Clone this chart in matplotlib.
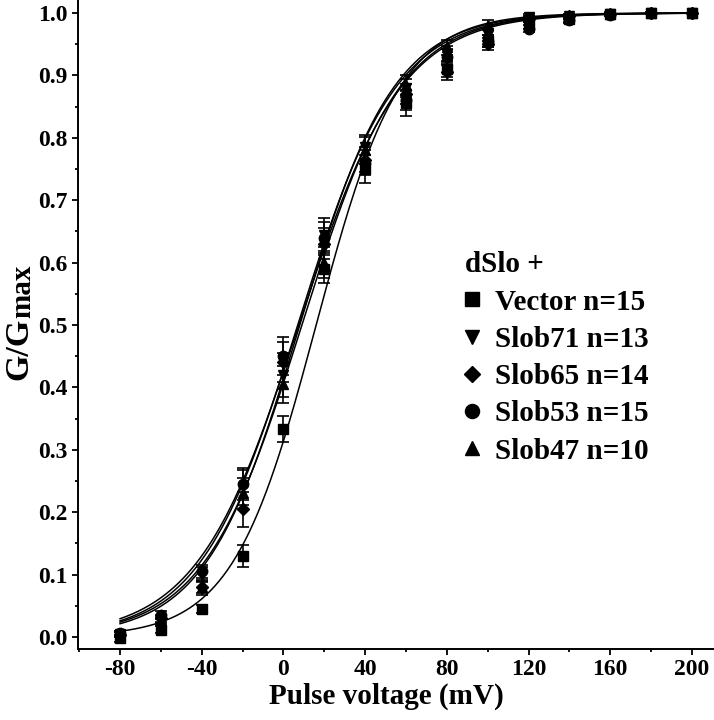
import numpy as np
import matplotlib
matplotlib.use("Agg")
import matplotlib.pyplot as plt
from matplotlib.ticker import MultipleLocator, FormatStrFormatter, FuncFormatter

plt.rcParams["font.family"] = ["Liberation Serif", "DejaVu Serif"]
plt.rcParams["font.weight"] = "bold"

# pulse voltages (mV)
voltage = [-80, -60, -40, -20, 0, 20, 40, 60, 80, 100, 120, 140, 160, 180, 200]

# normalized conductance
vector = [-0.002, 0.012, 0.045, 0.13, 0.333, 0.59, 0.75, 0.855, 0.91, 0.955, 0.98, 0.99, 0.998, 1.0, 1.0]
slob71 = [0.005, 0.028, 0.10, 0.24, 0.42, 0.645, 0.785, 0.88, 0.935, 0.965, 0.993, 0.995, 0.998, 1.0, 1.0]
slob65 = [0.004, 0.03, 0.08, 0.205, 0.44, 0.63, 0.765, 0.87, 0.905, 0.95, 0.99, 0.995, 0.998, 1.0, 1.0]
slob53 = [0.006, 0.035, 0.105, 0.245, 0.45, 0.64, 0.76, 0.86, 0.93, 0.955, 0.975, 0.988, 0.997, 1.0, 1.0]
slob47 = [0.004, 0.025, 0.08, 0.23, 0.405, 0.60, 0.78, 0.885, 0.945, 0.98, 0.99, 0.995, 0.998, 1.0, 1.0]

# standard errors
vector_err = [0.006, 0.006, 0.006, 0.017, 0.021, 0.022, 0.022, 0.02, 0.012, 0.01, 0.006, 0.005, 0.003, 0.002, 0.0]
slob71_err = [0.004, 0.006, 0.012, 0.028, 0.035, 0.027, 0.02, 0.015, 0.012, 0.01, 0.005, 0.004, 0.002, 0.001, 0.0]
slob65_err = [0.004, 0.006, 0.012, 0.028, 0.032, 0.025, 0.02, 0.016, 0.012, 0.01, 0.005, 0.004, 0.002, 0.001, 0.0]
slob53_err = [0.004, 0.006, 0.01, 0.026, 0.03, 0.025, 0.02, 0.016, 0.012, 0.01, 0.005, 0.004, 0.002, 0.001, 0.0]
slob47_err = [0.004, 0.006, 0.01, 0.025, 0.03, 0.025, 0.022, 0.016, 0.012, 0.008, 0.005, 0.004, 0.002, 0.001, 0.0]

# Boltzmann fit parameters (V1/2, slope k) per construct
fit_vhalf = [16.0, 8.0, 7.5, 7.0, 9.0]
fit_slope = [20.5, 23.0, 25.0, 24.0, 24.0]

labels = ["Vector n=15", "Slob71 n=13", "Slob65 n=14", "Slob53 n=15", "Slob47 n=10"]
markers = ["s", "v", "D", "o", "^"]
sizes = [7.5, 7.5, 6, 7.5, 7.5]

series = [vector, slob71, slob65, slob53, slob47]
errors = [vector_err, slob71_err, slob65_err, slob53_err, slob47_err]


def boltzmann(v, vh, k):
    return 1.0 / (1.0 + np.exp((vh - v) / k))


W, H = 714, 720
fig = plt.figure(figsize=(W / 100, H / 100), dpi=100)
ax = fig.add_axes([78 / W, 1 - 649 / H, 636 / W, 649 / H])

vv = np.linspace(-80, 200, 400)
for vh, k in zip(fit_vhalf, fit_slope):
    ax.plot(vv, boltzmann(vv, vh, k), color="black", lw=1.1, zorder=2)

# draw Vector last so its squares sit on top
hmap = {}
for i in [4, 3, 2, 1, 0]:
    h = ax.errorbar(voltage, series[i], yerr=errors[i], fmt=markers[i],
                    color="black", ms=sizes[i], elinewidth=1.2, capsize=4.3,
                    capthick=1.2, zorder=3, clip_on=False)
    hmap[i] = h[0]
handles = [hmap[i] for i in range(5)]

ax.set_xlim(-100.6, 210.8)
ax.set_ylim(-0.0192, 1.0208)
ax.xaxis.set_major_locator(MultipleLocator(40))
ax.xaxis.set_minor_locator(MultipleLocator(20))
ax.yaxis.set_major_locator(MultipleLocator(0.1))
ax.yaxis.set_minor_locator(MultipleLocator(0.05))
ax.yaxis.set_major_formatter(FormatStrFormatter("%.1f"))
ax.xaxis.set_major_formatter(FuncFormatter(lambda x, p: "%d" % x))

for s in ["top", "right"]:
    ax.spines[s].set_visible(False)
for s in ["left", "bottom"]:
    ax.spines[s].set_linewidth(1.4)
ax.tick_params(which="major", direction="out", length=4.3, width=1.3, labelsize=17, pad=3)
ax.tick_params(which="minor", direction="out", length=2.5, width=1.3)

ax.set_xlabel("Pulse voltage (mV)", fontsize=21, fontweight="bold", labelpad=-3)
ax.xaxis.set_label_coords(0.485, -0.052)

# y label: G/G with a large "max" subscript
gg = fig.text(27 / W, 1 - 380 / H, "G/G", rotation=90, rotation_mode="anchor",
              ha="left", va="baseline", fontsize=24.5, fontweight="bold")
fig.canvas.draw()
ext = gg.get_window_extent()
fig.text(30 / W, ext.y1 / H, "max", rotation=90, rotation_mode="anchor",
         ha="left", va="baseline", fontsize=21, fontweight="bold")

leg = ax.legend(handles, labels, title="dSlo +", loc="upper left",
                bbox_to_anchor=((465 - 78) / 636, 0.6125), frameon=False, fontsize=21,
                title_fontproperties={"size": 21, "weight": "bold"},
                handlelength=0.48, handletextpad=0.55, labelspacing=0.35,
                markerscale=1.35, alignment="left", borderaxespad=0, borderpad=0)
for t in leg.get_texts():
    t.set_fontweight("bold")

fig.savefig("out.png", dpi=100)
